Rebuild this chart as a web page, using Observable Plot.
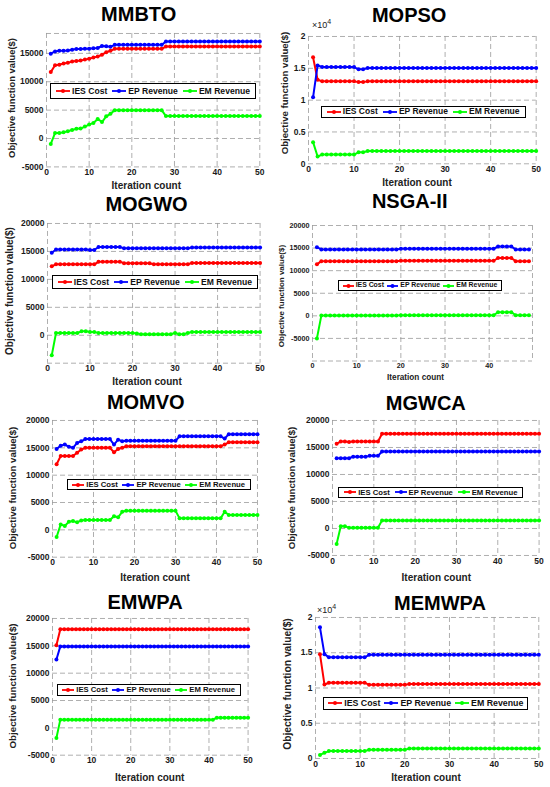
<!DOCTYPE html>
<html><head><meta charset="utf-8">
<script src="https://cdn.jsdelivr.net/npm/d3@7"></script>
<script src="https://cdn.jsdelivr.net/npm/@observablehq/plot@0.6"></script>
<style>
body{margin:0;background:#fff;}
#root{position:relative;width:550px;height:787px;overflow:hidden;font-family:"Liberation Sans",Arial,sans-serif;}
.abs{position:absolute;}
.title{font-weight:bold;font-size:20px;transform:translate(-50%,-50%);white-space:nowrap;color:#000;}
.xlab{font-weight:bold;transform:translate(-50%,-50%);white-space:nowrap;color:#222;line-height:1;}
.ylab{font-weight:bold;transform:translate(-50%,-50%) rotate(-90deg);white-space:nowrap;color:#222;line-height:1;}
.legend{border:1px solid #000;background:#fff;display:flex;align-items:center;justify-content:space-evenly;font-weight:bold;box-sizing:border-box;color:#111;line-height:1;}
.legend span{display:flex;align-items:center;gap:2px;white-space:nowrap;}
.exp{font-size:9px;color:#222;white-space:nowrap;}
.exp sup{font-size:7px;}
</style>
</head><body><div id="root"></div>
<script>
const iterations = [1,2,3,4,5,6,7,8,9,10,11,12,13,14,15,16,17,18,19,20,21,22,23,24,25,26,27,28,29,30,31,32,33,34,35,36,37,38,39,40,41,42,43,44,45,46,47,48,49,50];
const seriesNames = ["IES Cost","EP Revenue","EM Revenue"];
const seriesColors = ["#ff0000","#0000ff","#00ff00"];
const titles = ["MMBTO","MOPSO","MOGWO","NSGA-II","MOMVO","MGWCA","EMWPA","MEMWPA"];

const mmbtoIES = [11700,12900,13000,13200,13350,13550,13650,13750,13900,14050,14250,14450,14750,15200,15450,15800,15800,15800,15800,15800,15800,15800,15800,15800,15800,15800,15800,16200,16200,16200,16200,16200,16200,16200,16200,16200,16200,16200,16200,16200,16200,16200,16200,16200,16200,16200,16200,16200,16200,16200];
const mmbtoEP  = [14950,15350,15450,15450,15500,15650,15750,15750,15800,15800,15900,15950,16300,16250,16150,16500,16500,16500,16500,16500,16500,16500,16500,16500,16500,16500,16500,17100,17100,17100,17100,17100,17100,17100,17100,17100,17100,17100,17100,17100,17100,17100,17100,17100,17100,17100,17100,17100,17100,17100];
const mmbtoEM  = [-950,950,950,1100,1300,1500,1700,1750,2100,2450,2750,3450,2900,3900,4350,5000,5000,5000,5000,5000,5000,5000,5000,5000,5000,5000,5000,3950,3950,3950,3950,3950,3950,3950,3950,3950,3950,3950,3950,3950,3950,3950,3950,3950,3950,3950,3950,3950,3950,3950];

const mopsoIES = [16750,13200,12950,12950,12950,12950,12950,12950,12950,12950,12850,12850,12950,12950,12950,12950,12950,12950,12950,12950,12950,12950,12950,12950,12950,12950,12950,12950,12950,12950,12950,12950,12950,12950,12950,12950,12950,12950,12950,12950,12950,12950,12950,12950,12950,12950,12950,12950,12950,12950];
const mopsoEP  = [10450,15450,15200,15200,15200,15200,15200,15200,15200,15200,14850,14850,15050,15050,15050,15050,15050,15050,15050,15050,15050,15050,15050,15050,15050,15050,15050,15050,15050,15050,15050,15050,15050,15050,15050,15050,15050,15050,15050,15050,15050,15050,15050,15050,15050,15050,15050,15050,15050,15050];
const mopsoEM  = [3400,1150,1450,1450,1450,1450,1450,1450,1450,1450,1800,1800,2000,2000,2000,2000,2000,2000,2000,2000,2000,2000,2000,2000,2000,2000,2000,2000,2000,2000,2000,2000,2000,2000,2000,2000,2000,2000,2000,2000,2000,2000,2000,2000,2000,2000,2000,2000,2000,2000];

const mogwoIES = [12350,12700,12700,12700,12700,12700,12700,12700,12700,12700,12700,13150,13150,13150,13150,13150,13150,12900,12900,12900,12900,12900,12900,12900,12700,12700,12700,12700,12700,12700,12700,12700,12700,12950,12950,12950,12950,12950,12950,12950,12950,12950,12950,12950,12950,12950,12950,12950,12950,12950];
const mogwoEP  = [14750,15350,15350,15350,15350,15350,15350,15350,15350,15250,15250,15800,15800,15800,15800,15800,15800,15550,15550,15550,15550,15550,15550,15550,15550,15550,15550,15550,15550,15550,15550,15550,15550,15700,15700,15700,15700,15700,15700,15700,15700,15700,15700,15700,15700,15700,15700,15700,15700,15700];
const mogwoEM  = [-3600,400,400,400,400,400,400,700,700,600,600,400,400,400,400,400,400,400,400,400,300,200,200,200,200,200,200,200,200,400,200,200,400,600,600,600,600,600,600,600,600,600,600,600,600,600,600,600,600,600];

const nsgaIES = [11400,12100,12100,12100,12100,12100,12100,12100,12100,12100,12100,12100,12100,12100,12100,12100,12100,12100,12100,12200,12200,12200,12200,12200,12200,12200,12200,12200,12200,12200,12200,12200,12200,12200,12200,12200,12200,12200,12200,12200,12200,12800,12800,12800,12800,12100,12100,12100,12100];
const nsgaEP  = [15200,14700,14700,14700,14700,14700,14700,14700,14700,14700,14700,14700,14700,14700,14700,14700,14700,14700,14700,14850,14850,14850,14850,14850,14850,14850,14850,14850,14850,14850,14850,14850,14850,14850,14850,14850,14850,14850,14850,14850,14850,15350,15350,15350,15350,14700,14700,14700,14700];
const nsgaEM  = [-5000,50,50,50,50,50,50,50,50,50,50,50,50,50,50,50,50,50,50,150,150,150,150,150,150,150,150,150,150,150,150,150,150,150,150,150,150,150,150,150,150,800,800,800,800,150,150,150,150];

const momvoIES = [12000,13500,13500,13500,13500,14100,14700,15000,15000,15000,15000,15000,15000,15000,14200,14800,15000,15300,15300,15300,15300,15300,15300,15300,15300,15300,15300,15300,15300,15300,15300,15300,15300,15300,15300,15300,15300,15300,15300,15300,15300,15600,16000,16000,16000,16000,16000,16000,16000,16000];
const momvoEP  = [14800,15400,15600,15200,15000,15900,16200,16600,16600,16600,16600,16600,16600,16600,15600,16500,16200,16300,16300,16300,16300,16300,16300,16300,16300,16300,16300,16300,16300,16300,17100,17100,17100,17100,17100,17100,17100,17100,17100,17100,17100,16700,17500,17500,17500,17500,17500,17500,17500,17500];
const momvoEM  = [-1300,1000,700,1500,1600,1400,1700,1800,1800,1800,1800,1800,1800,1800,2500,2300,3300,3500,3500,3500,3500,3500,3500,3500,3500,3500,3500,3500,3500,3500,2100,2100,2100,2100,2100,2100,2100,2100,2100,2100,2100,3300,2700,2700,2700,2700,2700,2700,2700,2700];

const mgwcaIES = [15700,16100,16100,16000,16100,16100,16100,16100,16100,16100,16100,17550,17550,17550,17550,17550,17550,17550,17550,17550,17550,17550,17550,17550,17550,17550,17550,17550,17550,17550,17550,17550,17550,17550,17550,17550,17550,17550,17550,17550,17550,17550,17550,17550,17550,17550,17550,17550,17550,17550];
const mgwcaEP  = [13000,13000,13000,13000,13300,13300,13300,13300,13450,13450,13450,14250,14250,14250,14250,14250,14250,14250,14250,14250,14250,14250,14250,14250,14250,14250,14250,14250,14250,14250,14250,14250,14250,14250,14250,14250,14250,14250,14250,14250,14250,14250,14250,14250,14250,14250,14250,14250,14250,14250];
const mgwcaEM  = [-2850,430,430,120,120,120,120,120,120,120,120,1500,1500,1500,1500,1500,1500,1500,1500,1500,1500,1500,1500,1500,1500,1500,1500,1500,1500,1500,1500,1500,1500,1500,1500,1500,1500,1500,1500,1500,1500,1500,1500,1500,1500,1500,1500,1500,1500,1500];

const emwpaIES = [15100,18050,18050,18050,18050,18050,18050,18050,18050,18050,18050,18050,18050,18050,18050,18050,18050,18050,18050,18050,18050,18050,18050,18050,18050,18050,18050,18050,18050,18050,18050,18050,18050,18050,18050,18050,18050,18050,18050,18050,18050,18050,18050,18050,18050,18050,18050,18050,18050,18050];
const emwpaEP  = [12500,14900,14900,14900,14900,14900,14900,14900,14900,14900,14900,14900,14900,14900,14900,14900,14900,14900,14900,14900,14900,14900,14900,14900,14900,14900,14900,14900,14900,14900,14900,14900,14900,14900,14900,14900,14900,14900,14900,14900,14900,14900,14900,14900,14900,14900,14900,14900,14900,14900];
const emwpaEM  = [-1850,1500,1500,1500,1500,1500,1500,1500,1500,1500,1500,1500,1500,1500,1500,1500,1500,1500,1500,1500,1500,1500,1500,1500,1500,1500,1500,1500,1500,1500,1500,1500,1500,1500,1500,1500,1500,1500,1500,1500,1500,1850,1850,1850,1850,1850,1850,1850,1850,1850];

const memwpaIES = [14800,10500,10750,10750,10750,10750,10750,10750,10750,10750,10750,10450,10450,10450,10450,10450,10450,10450,10450,10450,10550,10550,10550,10550,10550,10550,10550,10550,10550,10550,10550,10550,10550,10550,10550,10550,10550,10550,10550,10550,10550,10550,10550,10550,10550,10550,10550,10550,10550,10550];
const memwpaEP  = [18600,14800,14350,14350,14350,14350,14350,14350,14350,14350,14350,14700,14700,14700,14700,14700,14700,14700,14700,14700,14700,14700,14700,14700,14700,14700,14700,14700,14700,14700,14700,14700,14700,14700,14700,14700,14700,14700,14700,14700,14700,14700,14700,14700,14700,14700,14700,14700,14700,14700];
const memwpaEM  = [500,800,1050,1050,1050,1050,1050,1050,1050,1050,1050,1250,1250,1250,1250,1250,1250,1250,1250,1250,1400,1400,1400,1400,1400,1400,1400,1400,1400,1400,1400,1400,1400,1400,1400,1400,1400,1400,1400,1400,1400,1400,1400,1400,1400,1400,1400,1400,1400,1400];

const xTicks = [0,10,20,30,40,50];
const xTicksNSGA = [0,10,20,30,40];
const yTicksA = [-5000,0,5000,10000,15000];
const yTicksB = [-5000,0,5000,10000,15000,20000];
const yTicksC = [0,5000,10000,15000,20000];

// layout of each panel (pixel frame, domains, text positions)
const panels = [
  {t:0, s:[mmbtoIES,mmbtoEP,mmbtoEM], x0:45.7,x1:259,y0:33.3,y1:166.7, xd:[0,50], xt:xTicks, yd:[-5000,18500], yt:yTicksA, sci:false, tf:8.5,
   title:[138.7,14], xl:[146.3,185.5,10], yl:[11.7,98.3,9.4], lg:[50,83.3,206,15.4,8.6]},
  {t:1, s:[mopsoIES,mopsoEP,mopsoEM], x0:308.3,x1:536,y0:36,y1:163.3, xd:[0,50], xt:xTicks, yd:[0,20000], yt:yTicksC, sci:true, exp:[312,24], tf:8.5,
   title:[409.2,14.5], xl:[417,182.5,10], yl:[285,93.3,9.6], lg:[320.7,105.5,205,12,8.5]},
  {t:2, s:[mogwoIES,mogwoEP,mogwoEM], x0:46.7,x1:259.3,y0:223.3,y1:363, xd:[0,50], xt:xTicks, yd:[-5000,20000], yt:yTicksC, sci:false, tf:8.5,
   title:[146.5,204], xl:[147,382,10], yl:[10,290.8,10], lg:[51.7,275,206.6,14,8.6]},
  {t:3, s:[nsgaIES,nsgaEP,nsgaEM], x0:311.7,x1:531.7,y0:225,y1:360.5, xd:[0,49.8], xt:xTicksNSGA, yd:[-10000,20000], yt:yTicksB, sci:false, tf:7.2,
   title:[409.7,201.2], xl:[415.5,377.5,8.2], yl:[281.5,295.5,8], lg:[338.3,280,163.4,11,6.9]},
  {t:4, s:[momvoIES,momvoEP,momvoEM], x0:51.7,x1:256.7,y0:420,y1:556.7, xd:[0,50], xt:xTicks, yd:[-5000,20000], yt:yTicksB, sci:false, tf:8.5,
   title:[145.8,401.7], xl:[155,578,10], yl:[13.3,488.3,9.6], lg:[66.7,479.3,184,11,7.7]},
  {t:5, s:[mgwcaIES,mgwcaEP,mgwcaEM], x0:331.7,x1:538.3,y0:420,y1:555, xd:[0,50], xt:xTicks, yd:[-5000,20000], yt:yTicksB, sci:false, tf:8.5,
   title:[425.8,402.8], xl:[436.3,577.7,10], yl:[292.3,488.3,9.6], lg:[338.3,486.7,185,11.6,7.7]},
  {t:6, s:[emwpaIES,emwpaEP,emwpaEM], x0:51.7,x1:247.3,y0:618.3,y1:755, xd:[0,50], xt:xTicks, yd:[-5000,20000], yt:yTicksB, sci:false, tf:8.5,
   title:[145,601.7], xl:[149.7,777.7,10], yl:[13.3,685.8,9.8], lg:[56.7,684,184,11.7,7.7]},
  {t:7, s:[memwpaIES,memwpaEP,memwpaEM], x0:315,x1:538.3,y0:616.7,y1:757.7, xd:[0,50], xt:xTicks, yd:[0,20000], yt:yTicksC, sci:true, exp:[317,609], tf:8.5,
   title:[440,602.8], xl:[426,777.7,10], yl:[288.3,684.2,10.3], lg:[323.3,696.7,205,13.3,8.8]}
];

const root = document.getElementById("root");
function addDiv(cls, html, x, y, extra) {
  const d = document.createElement("div");
  d.className = "abs " + cls;
  d.innerHTML = html;
  d.style.left = x + "px"; d.style.top = y + "px";
  if (extra) Object.assign(d.style, extra);
  root.appendChild(d);
  return d;
}

for (const p of panels) {
  const mL = 42, mR = 12, mT = 12, mB = 14;
  const W = (p.x1 - p.x0) + mL + mR;
  const H = (p.y1 - p.y0) + mT + mB;
  const rows = [];
  p.s.forEach((vals, k) => vals.forEach((v, i) => rows.push({x: iterations[i], y: v, k})));
  const gridX = [...p.xt.filter(v => v > p.xd[0] && v < p.xd[1]), p.xd[0], p.xd[1]];
  const gridY = [...p.yt.filter(v => v > p.yd[0] && v < p.yd[1]), p.yd[0], p.yd[1]];
  const marks = [
    Plot.ruleX(gridX, {stroke: "#9a9a9a", strokeWidth: 0.8, strokeDasharray: "5,3"}),
    Plot.ruleY(gridY, {stroke: "#9a9a9a", strokeWidth: 0.8, strokeDasharray: "5,3"}),
    Plot.axisX({ticks: p.xt, tickSize: 0, tickPadding: 2, fontSize: p.tf, tickFormat: d => String(d)}),
    Plot.axisY({ticks: p.yt, tickSize: 0, tickPadding: 3, fontSize: p.tf, tickFormat: p.sci ? (d => String(d / 10000)) : (d => String(d))})
  ];
  for (let k = 0; k < 3; k++) {
    const data = rows.filter(r => r.k === k);
    marks.push(Plot.line(data, {x: "x", y: "y", stroke: seriesColors[k], strokeWidth: 2}));
    marks.push(Plot.dot(data, {x: "x", y: "y", fill: seriesColors[k], r: 2}));
  }
  const svg = Plot.plot({
    width: W, height: H,
    marginLeft: mL, marginRight: mR, marginTop: mT, marginBottom: mB,
    x: {domain: p.xd, label: null},
    y: {domain: p.yd, label: null},
    style: {fontFamily: "'Liberation Sans', Arial, sans-serif", fontWeight: "bold", fontSize: p.tf + "px", color: "#1a1a1a", background: "transparent", overflow: "visible"},
    marks
  });
  svg.style.position = "absolute";
  svg.style.left = (p.x0 - mL) + "px";
  svg.style.top = (p.y0 - mT) + "px";
  root.appendChild(svg);

  addDiv("title", titles[p.t], p.title[0], p.title[1]);
  addDiv("xlab", "Iteration count", p.xl[0], p.xl[1], {fontSize: p.xl[2] + "px"});
  addDiv("ylab", "Objective function value($)", p.yl[0], p.yl[1], {fontSize: p.yl[2] + "px"});
  if (p.sci) addDiv("exp", "×10<sup>4</sup>", p.exp[0], p.exp[1] - 6);

  const [lx, ly, lw, lh, fs] = p.lg;
  const iw = Math.round(fs * 1.6);
  const items = seriesNames.map((n, k) =>
    `<span><svg width="${iw}" height="6"><line x1="0" y1="3" x2="${iw}" y2="3" stroke="${seriesColors[k]}" stroke-width="1.8"/><circle cx="${iw/2}" cy="3" r="2" fill="${seriesColors[k]}"/></svg>${n}</span>`
  ).join("");
  addDiv("legend", items, lx, ly, {width: lw + "px", height: lh + "px", fontSize: fs + "px"});
}
</script>
</body></html>
